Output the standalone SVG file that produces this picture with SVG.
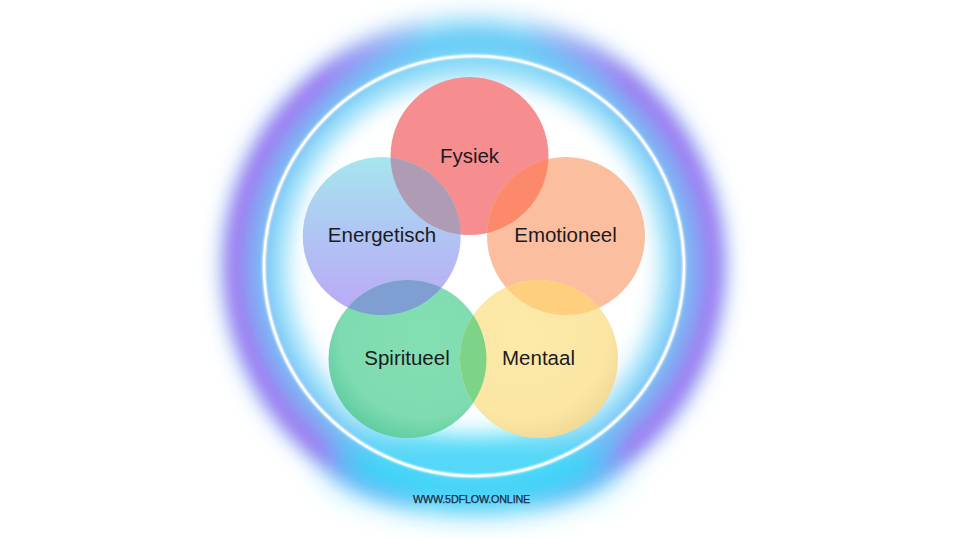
<svg xmlns="http://www.w3.org/2000/svg" width="960" height="539" viewBox="0 0 960 539">
  <defs>
    <style>
      .lbl { font-family: "Liberation Sans", Arial, sans-serif; font-size: 20.5px; fill: #1b1b22; text-anchor: middle; }
      .web { font-family: "Liberation Sans", Arial, sans-serif; font-size: 10.8px; fill: #1c2a44; text-anchor: middle; stroke: #1c2a44; stroke-width: 0.25; letter-spacing: -0.2px; }
    </style>
    <filter id="b10" filterUnits="userSpaceOnUse" x="0" y="-100" width="960" height="740"><feGaussianBlur stdDeviation="10"/></filter>
    <filter id="b14" filterUnits="userSpaceOnUse" x="0" y="-100" width="960" height="740"><feGaussianBlur stdDeviation="14"/></filter>
    <filter id="b18" filterUnits="userSpaceOnUse" x="0" y="-100" width="960" height="740"><feGaussianBlur stdDeviation="18"/></filter>
    <filter id="b2" filterUnits="userSpaceOnUse" x="0" y="-100" width="960" height="740"><feGaussianBlur stdDeviation="1.2"/></filter>
    <linearGradient id="sideMaskG" x1="200" y1="0" x2="750" y2="0" gradientUnits="userSpaceOnUse">
      <stop offset="0" stop-color="#fff"/>
      <stop offset="0.22" stop-color="#fff"/>
      <stop offset="0.42" stop-color="#000"/>
      <stop offset="0.58" stop-color="#000"/>
      <stop offset="0.78" stop-color="#fff"/>
      <stop offset="1" stop-color="#fff"/>
    </linearGradient>
    <mask id="sideMask" maskUnits="userSpaceOnUse" x="0" y="0" width="960" height="539">
      <rect x="0" y="0" width="960" height="539" fill="url(#sideMaskG)"/>
    </mask>
    <linearGradient id="energG" x1="0" y1="0" x2="0" y2="1">
      <stop offset="0" stop-color="#a6e6ee"/>
      <stop offset="0.5" stop-color="#b0c4f3"/>
      <stop offset="1" stop-color="#bca8f6"/>
    </linearGradient>
    <radialGradient id="spirG" cx="0.6" cy="0.35" r="0.75">
      <stop offset="0" stop-color="#84dfb2"/>
      <stop offset="0.7" stop-color="#7fdbb0"/>
      <stop offset="1" stop-color="#52c69c"/>
    </radialGradient>
    <radialGradient id="mentG" cx="0.4" cy="0.35" r="0.75">
      <stop offset="0" stop-color="#fdeaa8"/>
      <stop offset="0.7" stop-color="#fbe6a4"/>
      <stop offset="1" stop-color="#ecd48f"/>
    </radialGradient>
    <clipPath id="cFys"><circle cx="469.5" cy="156" r="79"/></clipPath>
    <clipPath id="cEne"><circle cx="381.7" cy="236" r="79"/></clipPath>
    <clipPath id="cEmo"><circle cx="566" cy="236" r="79"/></clipPath>
    <clipPath id="cSpi"><circle cx="407.5" cy="359" r="79"/></clipPath>
  </defs>

  <rect x="0" y="0" width="960" height="539" fill="#ffffff"/>

  <g id="glow">
    <circle cx="474" cy="266" r="222" fill="none" stroke="#5cc8f6" stroke-width="44" filter="url(#b14)"/>
    <g mask="url(#sideMask)">
      <circle cx="474" cy="266" r="236" fill="none" stroke="#a66cf0" stroke-width="24" filter="url(#b10)"/>
      <circle cx="474" cy="266" r="220" fill="none" stroke="#8a98f2" stroke-width="18" filter="url(#b10)"/>
    </g>
    <ellipse cx="474" cy="465" rx="140" ry="36" fill="#33d6f8" filter="url(#b18)"/>
    <circle cx="474" cy="266" r="200" fill="none" stroke="#7fd9f7" stroke-width="24" opacity="0.7" filter="url(#b14)"/>
    <circle cx="474" cy="262" r="168" fill="#ffffff" filter="url(#b14)"/>
    <circle cx="474" cy="266" r="210" fill="none" stroke="#ffffff" stroke-width="3.2" filter="url(#b2)"/>
    <circle cx="474" cy="266" r="210" fill="none" stroke="#ffffff" stroke-width="2"/>
  </g>

  <g id="node-fysiek">
    <circle cx="469.5" cy="156" r="79" fill="#f68e8f"/>
  </g>
  <g id="node-energetisch">
    <circle cx="381.7" cy="236" r="79" fill="url(#energG)"/>
  </g>
  <g id="node-emotioneel">
    <circle cx="566" cy="236" r="79" fill="#fbbf9f"/>
  </g>
  <g id="node-spiritueel">
    <circle cx="407.5" cy="359" r="79" fill="url(#spirG)"/>
  </g>
  <g id="node-mentaal">
    <circle cx="539" cy="359" r="79" fill="url(#mentG)"/>
  </g>

  <g id="overlaps">
    <circle cx="381.7" cy="236" r="79" fill="#b09bb4" clip-path="url(#cFys)"/>
    <circle cx="566" cy="236" r="79" fill="#fc8a6a" clip-path="url(#cFys)"/>
    <circle cx="407.5" cy="359" r="79" fill="#7f9ed2" clip-path="url(#cEne)"/>
    <circle cx="539" cy="359" r="79" fill="#fdcf7e" clip-path="url(#cEmo)"/>
    <circle cx="539" cy="359" r="79" fill="#7dd386" clip-path="url(#cSpi)"/>
  </g>

  <g id="labels">
    <text class="lbl" x="469.5" y="163">Fysiek</text>
    <text class="lbl" x="382" y="242">Energetisch</text>
    <text class="lbl" x="565.5" y="242">Emotioneel</text>
    <text class="lbl" x="407" y="365">Spiritueel</text>
    <text class="lbl" x="538.5" y="365">Mentaal</text>
    <text class="web" x="471.5" y="503">WWW.5DFLOW.ONLINE</text>
  </g>
</svg>
